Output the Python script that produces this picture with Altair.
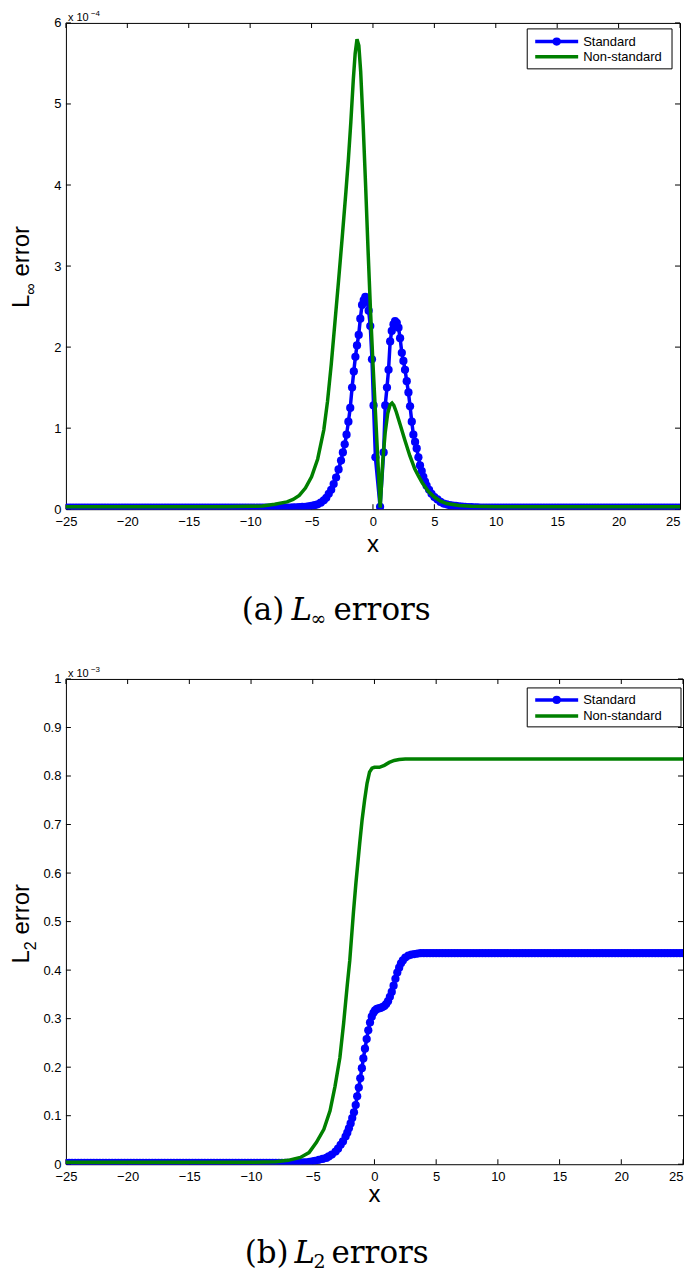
import altair as alt
import pandas as pd

# ---------------- data ----------------
# shared x positions of the marker series in the flat tails
x_tail_left = [
    -25.0, -24.75, -24.5, -24.25, -24.0, -23.75, -23.5, -23.25, -23.0, -22.75,
    -22.5, -22.25, -22.0, -21.75, -21.5, -21.25, -21.0, -20.75, -20.5, -20.25,
    -20.0, -19.75, -19.5, -19.25, -19.0, -18.75, -18.5, -18.25, -18.0, -17.75,
    -17.5, -17.25, -17.0, -16.75, -16.5, -16.25, -16.0, -15.75, -15.5, -15.25,
    -15.0, -14.75, -14.5, -14.25, -14.0, -13.75, -13.5, -13.25, -13.0, -12.75,
    -12.5, -12.25, -12.0, -11.75, -11.5, -11.25, -11.0, -10.75, -10.5, -10.25,
    -10.0, -9.75, -9.5, -9.25, -9.0, -8.75, -8.5, -8.25, -8.0, -7.75,
    -7.5, -7.25, -7.0, -6.75, -6.5, -6.25, -6.0, -5.75]
x_tail_right = [
    6.0, 6.25, 6.5, 6.75, 7.0, 7.25, 7.5, 7.75, 8.0, 8.25,
    8.5, 8.75, 9.0, 9.25, 9.5, 9.75, 10.0, 10.25, 10.5, 10.75,
    11.0, 11.25, 11.5, 11.75, 12.0, 12.25, 12.5, 12.75, 13.0, 13.25,
    13.5, 13.75, 14.0, 14.25, 14.5, 14.75, 15.0, 15.25, 15.5, 15.75,
    16.0, 16.25, 16.5, 16.75, 17.0, 17.25, 17.5, 17.75, 18.0, 18.25,
    18.5, 18.75, 19.0, 19.25, 19.5, 19.75, 20.0, 20.25, 20.5, 20.75,
    21.0, 21.25, 21.5, 21.75, 22.0, 22.25, 22.5, 22.75, 23.0, 23.25,
    23.5, 23.75, 24.0, 24.25, 24.5, 24.75, 25.0]

# (a) L_inf error, units of 1e-4
linf_std_left = [
    0.02, 0.02, 0.02, 0.02, 0.02, 0.02, 0.02, 0.02, 0.02, 0.02,
    0.02, 0.02, 0.02, 0.02, 0.02, 0.02, 0.02, 0.02, 0.02, 0.02,
    0.02, 0.02, 0.02, 0.02, 0.02, 0.02, 0.02, 0.02, 0.02, 0.02,
    0.02, 0.02, 0.02, 0.02, 0.02, 0.02, 0.02, 0.02, 0.02, 0.02,
    0.02, 0.02, 0.02, 0.02, 0.02, 0.02, 0.02, 0.02, 0.02, 0.02,
    0.02, 0.02, 0.02, 0.02, 0.02, 0.02, 0.02, 0.02, 0.02, 0.02,
    0.02, 0.02, 0.02, 0.02, 0.02, 0.02, 0.02, 0.02, 0.02, 0.02,
    0.02, 0.02, 0.02, 0.02, 0.022, 0.024, 0.026, 0.028]
linf_std_mid_x = [
    -5.5, -5.25, -5.0, -4.75, -4.5, -4.25, -4.0, -3.8, -3.6, -3.4,
    -3.2, -3.0, -2.8, -2.6, -2.45, -2.3, -2.15, -2.0, -1.85, -1.7,
    -1.56, -1.43, -1.3, -1.16, -1.03, -0.89, -0.75, -0.62, -0.48, -0.35,
    -0.22, -0.08, 0.05, 0.2, 0.58, 0.87, 1.0, 1.14, 1.27, 1.4,
    1.53, 1.67, 1.8, 1.94, 2.08, 2.21, 2.35, 2.48, 2.61, 2.75,
    2.89, 3.02, 3.16, 3.29, 3.43, 3.56, 3.7, 3.83, 3.97, 4.1,
    4.24, 4.37, 4.57, 4.77, 5.0, 5.25, 5.5, 5.75]
linf_std_mid_y = [
    0.03, 0.035, 0.04, 0.05, 0.06, 0.08, 0.11, 0.14, 0.19, 0.24,
    0.31, 0.39, 0.49, 0.6, 0.7, 0.8, 0.92, 1.08, 1.25, 1.5,
    1.7, 1.88, 2.02, 2.15, 2.35, 2.52, 2.58, 2.62, 2.57, 2.45,
    2.26, 1.85, 1.28, 0.64, 0.03, 0.7, 1.28, 1.5, 1.72, 2.07,
    2.2, 2.28, 2.32, 2.3, 2.24, 2.11, 1.93, 1.83, 1.72, 1.58,
    1.44, 1.27, 1.08, 0.92, 0.83, 0.75, 0.64, 0.54, 0.47, 0.4,
    0.34, 0.29, 0.24, 0.19, 0.15, 0.12, 0.09, 0.07]
linf_std_right = [
    0.06, 0.05, 0.045, 0.04, 0.035, 0.032, 0.03, 0.027, 0.025, 0.023,
    0.022, 0.021, 0.02, 0.02, 0.02, 0.02, 0.02, 0.02, 0.02, 0.02,
    0.02, 0.02, 0.02, 0.02, 0.02, 0.02, 0.02, 0.02, 0.02, 0.02,
    0.02, 0.02, 0.02, 0.02, 0.02, 0.02, 0.02, 0.02, 0.02, 0.02,
    0.02, 0.02, 0.02, 0.02, 0.02, 0.02, 0.02, 0.02, 0.02, 0.02,
    0.02, 0.02, 0.02, 0.02, 0.02, 0.02, 0.02, 0.02, 0.02, 0.02,
    0.02, 0.02, 0.02, 0.02, 0.02, 0.02, 0.02, 0.02, 0.02, 0.02,
    0.02, 0.02, 0.02, 0.02, 0.02, 0.02, 0.02]
linf_non_x = [
    -25.0, -12.0, -10.0, -9.0, -8.0, -7.0, -6.5, -6.0, -5.5, -5.0,
    -4.5, -4.0, -3.7, -3.4, -3.1, -2.8, -2.5, -2.2, -2.0, -1.8,
    -1.6, -1.45, -1.3, -1.15, -1.0, -0.8, -0.6, -0.4, -0.2, 0.0,
    0.2, 0.4, 0.59, 0.8, 1.0, 1.2, 1.4, 1.55, 1.7, 1.9,
    2.2, 2.6, 3.0, 3.4, 3.7, 4.0, 4.5, 5.0, 5.5, 6.0,
    7.0, 8.0, 10.0, 12.0, 25.0]
linf_non_y = [
    0.03, 0.03, 0.035, 0.04, 0.06, 0.09, 0.12, 0.17, 0.26, 0.4,
    0.62, 0.98, 1.33, 1.78, 2.3, 2.82, 3.36, 3.92, 4.32, 4.78,
    5.3, 5.62, 5.8, 5.72, 5.4, 4.75, 4.0, 3.2, 2.45, 1.8,
    1.2, 0.6, 0.02, 0.6, 0.95, 1.18, 1.29, 1.31, 1.28, 1.2,
    1.05, 0.85, 0.66, 0.5, 0.41, 0.33, 0.22, 0.15, 0.1, 0.07,
    0.045, 0.035, 0.03, 0.03, 0.03]

# (b) L2 error, units of 1e-3
l2_std_left = [
    0.003, 0.003, 0.003, 0.003, 0.003, 0.003, 0.003, 0.003, 0.003, 0.003,
    0.003, 0.003, 0.003, 0.003, 0.003, 0.003, 0.003, 0.003, 0.003, 0.003,
    0.003, 0.003, 0.003, 0.003, 0.003, 0.003, 0.003, 0.003, 0.003, 0.003,
    0.003, 0.003, 0.003, 0.003, 0.003, 0.003, 0.003, 0.003, 0.003, 0.003,
    0.003, 0.003, 0.003, 0.003, 0.003, 0.003, 0.003, 0.003, 0.003, 0.003,
    0.003, 0.003, 0.003, 0.003, 0.003, 0.003, 0.003, 0.003, 0.003, 0.003,
    0.003, 0.003, 0.003, 0.003, 0.003, 0.003, 0.003, 0.003, 0.003, 0.003,
    0.003, 0.003, 0.003, 0.003, 0.003, 0.0035, 0.0035, 0.004]
l2_std_mid_x = [
    -5.5, -5.25, -5.0, -4.8, -4.5, -4.2, -3.9, -3.7, -3.45, -3.15,
    -2.95, -2.74, -2.55, -2.34, -2.2, -2.07, -1.93, -1.8, -1.66, -1.52,
    -1.4, -1.27, -1.15, -1.02, -0.9, -0.77, -0.63, -0.5, -0.36, -0.22,
    -0.08, 0.05, 0.2, 0.35, 0.5, 0.65, 0.8, 0.95, 1.1, 1.25,
    1.4, 1.55, 1.7, 1.85, 2.0, 2.15, 2.3, 2.5, 2.75, 3.0,
    3.25, 3.5, 3.75, 4.0, 4.25, 4.5, 4.75, 5.0, 5.25, 5.5,
    5.75]
l2_std_mid_y = [
    0.004, 0.005, 0.006, 0.007, 0.009, 0.011, 0.013, 0.016, 0.02, 0.026,
    0.032, 0.04, 0.047, 0.057, 0.065, 0.074, 0.084, 0.095, 0.107, 0.122,
    0.14, 0.158, 0.177, 0.198, 0.218, 0.238, 0.258, 0.276, 0.292, 0.304,
    0.312, 0.317, 0.32, 0.321, 0.322, 0.324, 0.326, 0.33, 0.336, 0.345,
    0.355, 0.368, 0.382, 0.395, 0.405, 0.414, 0.42, 0.426, 0.43, 0.432,
    0.433, 0.434, 0.435, 0.435, 0.435, 0.435, 0.435, 0.435, 0.435, 0.435,
    0.435]
l2_std_right = [
    0.435, 0.435, 0.435, 0.435, 0.435, 0.435, 0.435, 0.435, 0.435, 0.435,
    0.435, 0.435, 0.435, 0.435, 0.435, 0.435, 0.435, 0.435, 0.435, 0.435,
    0.435, 0.435, 0.435, 0.435, 0.435, 0.435, 0.435, 0.435, 0.435, 0.435,
    0.435, 0.435, 0.435, 0.435, 0.435, 0.435, 0.435, 0.435, 0.435, 0.435,
    0.435, 0.435, 0.435, 0.435, 0.435, 0.435, 0.435, 0.435, 0.435, 0.435,
    0.435, 0.435, 0.435, 0.435, 0.435, 0.435, 0.435, 0.435, 0.435, 0.435,
    0.435, 0.435, 0.435, 0.435, 0.435, 0.435, 0.435, 0.435, 0.435, 0.435,
    0.435, 0.435, 0.435, 0.435, 0.435, 0.435, 0.435]
l2_non_x = [
    -25.0, -10.0, -8.0, -7.0, -6.0, -5.3, -4.7, -4.1, -3.6, -3.2,
    -2.8, -2.5, -2.2, -2.0, -1.7, -1.5, -1.2, -1.0, -0.8, -0.6,
    -0.4, -0.2, 0.0, 0.4, 0.8, 1.2, 1.6, 2.0, 2.5, 3.0,
    25.0]
l2_non_y = [
    0.004, 0.004, 0.005, 0.008, 0.014, 0.024, 0.045, 0.072, 0.11, 0.16,
    0.22, 0.29, 0.37, 0.42, 0.52, 0.58, 0.66, 0.71, 0.75, 0.785,
    0.808, 0.816, 0.818, 0.818, 0.822, 0.828, 0.832, 0.834, 0.835, 0.835,
    0.835]

x_ticks = [-25, -20, -15, -10, -5, 0, 5, 10, 15, 20, 25]
linf_y_ticks = [0, 1, 2, 3, 4, 5, 6]
l2_y_ticks = [0, 0.1, 0.2, 0.3, 0.4, 0.5, 0.6, 0.7, 0.8, 0.9, 1]
series_names = ["Standard", "Non-standard"]

# ---------------- styling ----------------
BLUE = "#0000ff"
GREEN = "#008000"
SANS = "Liberation Sans"
SERIF = "DejaVu Serif"
LW = 3.5
MS = 68
TICK = 5

one = pd.DataFrame({"k": [0]})


def txt(s, x, y, size, font=SANS, align="left", baseline="alphabetic",
        angle=None, style="normal"):
    kw = dict(text=s, font=font, fontSize=size, align=align,
              baseline=baseline, color="black", fontStyle=style)
    if angle is not None:
        kw["angle"] = angle
    return alt.Chart(one).mark_text(**kw).encode(x=alt.value(x), y=alt.value(y))


def hrule(x1, x2, y, color, width):
    return alt.Chart(one).mark_rule(color=color, strokeWidth=width).encode(
        x=alt.value(x1), x2=alt.value(x2), y=alt.value(y))


def vguide(x):
    # invisible (white) 1px stub that fixes the horizontal extent of a panel
    return alt.Chart(one).mark_rule(color="white", strokeWidth=1).encode(
        x=alt.value(x), y=alt.value(300), y2=alt.value(301))


def panel(std_x, std_y, non_x, non_y, ymax, yticks, yfmt, exp_txt,
          sub_txt, legend, W, H, left_ext, title_x, xlab_y,
          cap_y, cap_letter, cap_pos):
    df_std = pd.DataFrame({"x": std_x, "y": std_y})
    df_non = pd.DataFrame({"x": non_x, "y": non_y})
    df_xt = pd.DataFrame({"v": x_ticks})
    df_yt = pd.DataFrame({"v": yticks})
    xs = alt.Scale(domain=[-25, 25], nice=False, zero=False)
    ys = alt.Scale(domain=[0, ymax], nice=False, zero=False)

    ax_x_lab = alt.Axis(values=x_ticks, format="d", ticks=False, domain=False,
                        grid=False, title=None, labelPadding=6, labelFlush=False,
                        labelAlign={"condition": {"test": "datum.value == 25",
                                                  "value": "right"},
                                    "value": "center"},
                        labelFontSize=13, labelFont=SANS, labelColor="black")
    ax_y_lab = alt.Axis(values=yticks, format=yfmt, ticks=False, domain=False,
                        grid=False, title=None, labelPadding=5, labelFlush=False,
                        labelFontSize=13, labelFont=SANS, labelColor="black")

    std_line = alt.Chart(df_std).mark_line(color=BLUE, strokeWidth=LW,
                                           clip=True).encode(
        x=alt.X("x:Q", scale=xs, axis=ax_x_lab),
        y=alt.Y("y:Q", scale=ys, axis=ax_y_lab))
    std_pts = alt.Chart(df_std).mark_circle(color=BLUE, size=MS, opacity=1,
                                            clip=True).encode(
        x=alt.X("x:Q", scale=xs, axis=None),
        y=alt.Y("y:Q", scale=ys, axis=None))
    non_line = alt.Chart(df_non).mark_line(color=GREEN, strokeWidth=LW,
                                           clip=True).encode(
        x=alt.X("x:Q", scale=xs, axis=None),
        y=alt.Y("y:Q", scale=ys, axis=None))

    # inward tick marks on all four edges (MATLAB box style)
    tick_kw = dict(thickness=1, size=TICK, color="black", opacity=1)
    t_bot = alt.Chart(df_xt).mark_tick(orient="vertical", **tick_kw).encode(
        x=alt.X("v:Q", scale=xs, axis=None), y=alt.value(H - TICK / 2))
    t_top = alt.Chart(df_xt).mark_tick(orient="vertical", **tick_kw).encode(
        x=alt.X("v:Q", scale=xs, axis=None), y=alt.value(TICK / 2))
    t_left = alt.Chart(df_yt).mark_tick(orient="horizontal", **tick_kw).encode(
        y=alt.Y("v:Q", scale=ys, axis=None), x=alt.value(TICK / 2))
    t_right = alt.Chart(df_yt).mark_tick(orient="horizontal", **tick_kw).encode(
        y=alt.Y("v:Q", scale=ys, axis=None), x=alt.value(W - TICK / 2))

    layers = [vguide(-left_ext),
              t_bot, t_top, t_left, t_right, std_line, std_pts, non_line]

    # multiplier  "x 10^-n"
    layers.append(txt("x 10", 2, -2, 11))
    layers.append(txt(exp_txt, 25, -7, 8))

    # y title  "L_sub error" (rotated)
    fs = 24
    yb = H / 2 + 42
    xb = title_x
    layers.append(txt("L", xb, yb, fs, angle=270))
    layers.append(txt(sub_txt, xb + 7, yb - 0.556 * fs, 16, angle=270))
    sub_w = (0.713 if sub_txt == "\u221e" else 0.556) * 16
    layers.append(txt("error", xb, yb - 0.556 * fs - sub_w - 0.28 * fs, fs,
                      angle=270))

    # x title
    layers.append(txt("x", W / 2, xlab_y, fs, align="center", baseline="middle"))

    # caption "(a) L_sub errors"
    cs = 31
    p0, p1, p2, p3 = cap_pos
    layers.append(txt("(" + cap_letter + ")", p0, cap_y, cs, font=SERIF))
    layers.append(txt("L", p1, cap_y, cs, font=SERIF, style="italic"))
    layers.append(txt(sub_txt, p2, cap_y + 5, 19, font=SERIF))
    layers.append(txt("errors", p3, cap_y, cs, font=SERIF))

    # legend
    lx0, lx1, ly0, ly1, r1, r2 = legend
    layers.append(alt.Chart(one).mark_rect(fill="white", stroke="black",
                                           strokeWidth=1).encode(
        x=alt.value(lx0), x2=alt.value(lx1), y=alt.value(ly0), y2=alt.value(ly1)))
    layers.append(hrule(lx0 + 8, lx0 + 51, r1, BLUE, LW))
    layers.append(alt.Chart(one).mark_circle(color=BLUE, size=MS, opacity=1)
                  .encode(x=alt.value(lx0 + 29.5), y=alt.value(r1)))
    layers.append(hrule(lx0 + 8, lx0 + 51, r2, GREEN, LW))
    layers.append(txt(series_names[0], lx0 + 56, r1, 13, baseline="middle"))
    layers.append(txt(series_names[1], lx0 + 56, r2, 13, baseline="middle"))

    return alt.layer(*layers).resolve_axis(x="independent", y="independent") \
        .properties(width=W, height=H)


# both plot areas start at page x 65; top ends at 680, bottom at 683
W1, H1 = 615, 487
W2, H2 = 618, 486
top = panel(x_tail_left + linf_std_mid_x + x_tail_right,
            linf_std_left + linf_std_mid_y + linf_std_right,
            linf_non_x, linf_non_y, 6, linf_y_ticks, "d", "\u22124", "\u221e",
            (462, 607, 6, 46, 18.7, 34), W1, H1, 57, -37,
            H1 + 36, H1 + 111, "a", (176, 226, 245, 268))
bottom = panel(x_tail_left + l2_std_mid_x + x_tail_right,
               l2_std_left + l2_std_mid_y + l2_std_right,
               l2_non_x, l2_non_y, 1, l2_y_ticks, ".1~f", "\u22123", "2",
               (462, 616, 9, 48, 21, 37), W2, H2, 57, -37,
               H2 + 31, H2 + 99, "b", (179, 229, 248, 266))

chart = alt.vconcat(top, bottom, spacing=35).configure(
    padding=0).configure_view(stroke="black", strokeWidth=1).properties(
    padding=0)

chart.save("out.html", embed_options={"renderer": "svg", "actions": False})
